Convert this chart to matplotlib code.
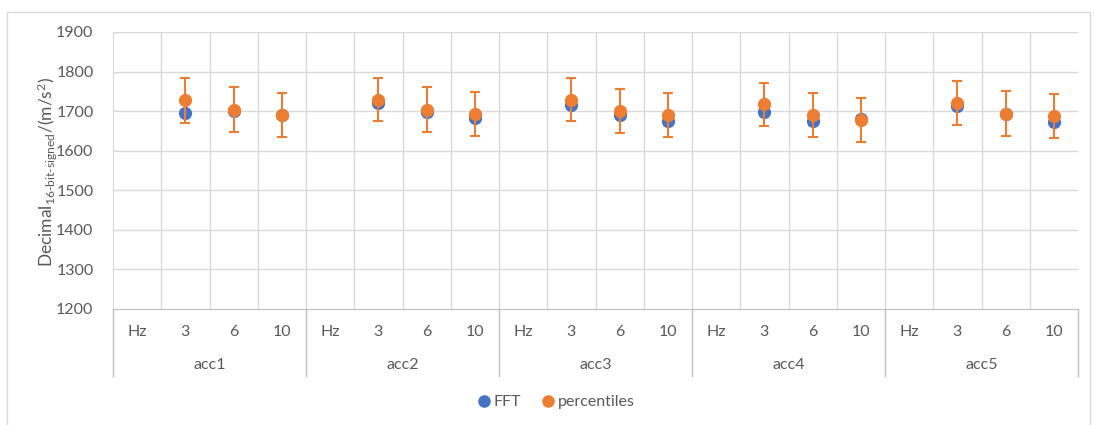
import numpy as np
import matplotlib.pyplot as plt
from matplotlib.lines import Line2D
import matplotlib.transforms as mtransforms

# data
groups = ['acc1', 'acc2', 'acc3', 'acc4', 'acc5']
cats = ['Hz', '3', '6', '10']

fft = [1696, 1700, 1690,
       1721, 1697, 1683,
       1715, 1691, 1674,
       1697, 1674, 1680,
       1713, 1693, 1673]
fft_err = [8, 8, 8, 8, 8, 8, 8, 8, 8, 8, 8, 8, 8, 8, 8]

perc = [1727, 1704, 1690,
        1729, 1704, 1693,
        1729, 1700, 1690,
        1717, 1690, 1678,
        1720, 1694, 1688]
perc_err = [57, 56, 55, 55, 56, 55, 55, 56, 55, 55, 55, 55, 56, 56, 55]

blue = '#4472C4'
orange = '#ED7D31'
grid_c = '#D9D9D9'
txt_c = '#595959'
plt.rcParams['font.family'] = ['Lato', 'DejaVu Sans']

W, H = 1094, 425
fig = plt.figure(figsize=(W / 100, H / 100), dpi=100)
x0, x1, ytop, ybot = 113, 1078, 32, 309
ax = fig.add_axes([x0 / W, (H - ybot) / H, (x1 - x0) / W, (ybot - ytop) / H])

ncat = len(groups) * len(cats)
xs = [g * len(cats) + c for g in range(len(groups)) for c in range(1, len(cats))]

ax.errorbar(xs, fft, yerr=fft_err, fmt='o', color=blue, ms=8.5, ecolor=blue,
            elinewidth=1.5, capsize=3.5, capthick=1.5, zorder=3)
ax.errorbar(xs, perc, yerr=perc_err, fmt='o', color=orange, ms=8.5, ecolor=orange,
            elinewidth=1.5, capsize=3.5, capthick=1.5, zorder=4)

ax.set_xlim(-0.5, ncat - 0.5)
ax.set_ylim(1200, 1900)
ax.set_yticks(np.arange(1200, 1901, 100))
ax.set_xticks([])
for v in np.arange(1300, 1901, 100):
    ax.axhline(v, color=grid_c, lw=1, zorder=0)
for i in range(ncat - 1):
    ax.axvline(i + 0.5, color=grid_c, lw=1, zorder=0)
for s in ['top', 'right']:
    ax.spines[s].set_visible(False)
ax.spines['left'].set_color(grid_c)
ax.spines['bottom'].set_color('#BFBFBF')
ax.tick_params(axis='y', length=0, labelsize=11.5, labelcolor=txt_c, pad=14)

# category axis below the plot
tr = mtransforms.blended_transform_factory(ax.transData, fig.transFigure)
for g, name in enumerate(groups):
    for c, lab in enumerate(cats):
        ax.text(g * len(cats) + c, (H - 332) / H, lab, transform=tr, ha='center',
                va='center', fontsize=11.5, color=txt_c)
    ax.text(g * len(cats) + 1.5, (H - 365) / H, name, transform=tr, ha='center',
            va='center', fontsize=11.5, color=txt_c)
for g in range(len(groups) + 1):
    xb = g * len(cats) - 0.5
    ax.add_line(Line2D([xb, xb], [(H - ybot) / H, (H - 376) / H], transform=tr,
                       color='#BFBFBF', lw=1, clip_on=False))

plt.rcParams['mathtext.fontset'] = 'custom'
plt.rcParams['mathtext.rm'] = 'Lato'
plt.rcParams['mathtext.it'] = 'Lato'
fig.text(47 / W, (H - 172) / H, r'Decimal$_{\mathrm{16\text{-}bit\text{-}signed}}$/(m/s$^{\mathrm{2}}$)',
         rotation=90, ha='center', va='center', fontsize=12.5, color=txt_c)

handles = [Line2D([], [], marker='o', ls='', color=blue, ms=8),
           Line2D([], [], marker='o', ls='', color=orange, ms=8)]
fig.legend(handles, ['FFT', 'percentiles'], loc='center', bbox_to_anchor=(555 / W, (H - 402) / H),
           ncol=2, frameon=False, fontsize=11.5, labelcolor=txt_c, handletextpad=0.1,
           columnspacing=1.2, handlelength=1.0)

# outer chart border
border = Line2D([7 / W, 7 / W, 1090 / W, 1090 / W], [0, (H - 12) / H, (H - 12) / H, 0],
                transform=fig.transFigure, color='#D9D9D9', lw=1)
fig.add_artist(border)

fig.savefig('out.png', dpi=100)
